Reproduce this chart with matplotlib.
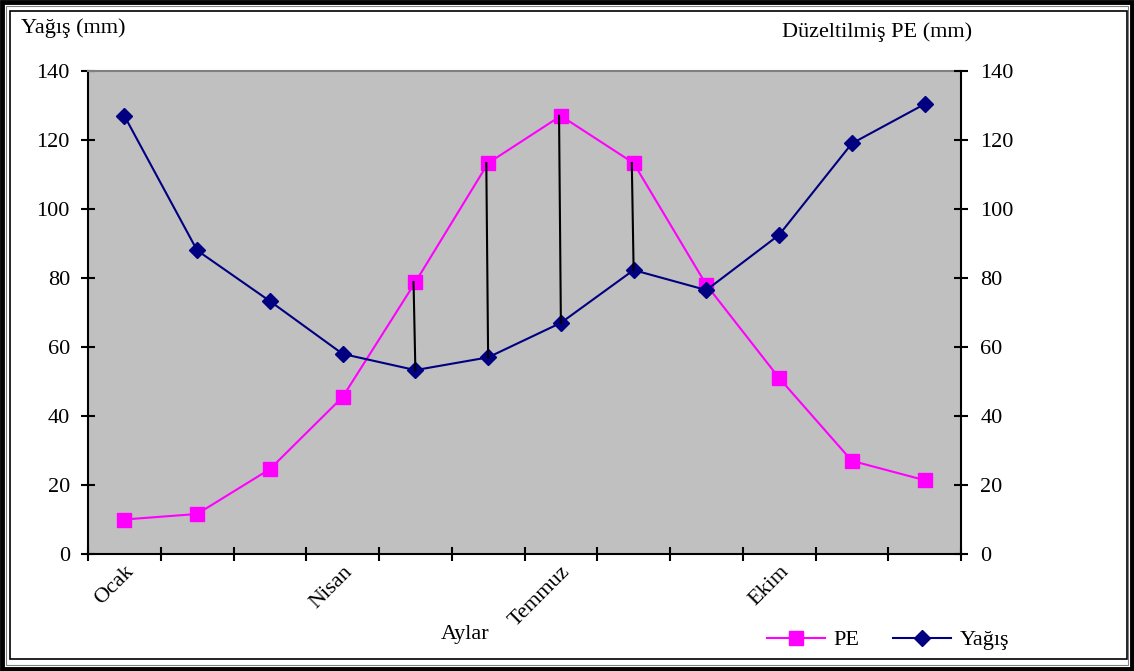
import matplotlib.pyplot as plt
from matplotlib.patches import Rectangle
from matplotlib.lines import Line2D
import numpy as np

plt.rcParams['font.family'] = ['Liberation Serif', 'DejaVu Serif']

months = ['Ocak', 'Şubat', 'Mart', 'Nisan', 'Mayıs', 'Haziran', 'Temmuz',
          'Ağustos', 'Eylül', 'Ekim', 'Kasım', 'Aralık']
shown_labels = ['Ocak', 'Nisan', 'Temmuz', 'Ekim']
yagis = [127, 88, 73.3, 58, 53.3, 57, 67, 82.3, 76.5, 92.5, 119, 130.4]
pe = [10, 11.6, 24.6, 45.5, 78.8, 113.3, 127, 113.3, 78, 51, 27, 21.4]
deficit_months = ['Mayıs', 'Haziran', 'Temmuz', 'Ağustos']
yticks = [0, 20, 40, 60, 80, 100, 120, 140]

FS = 16
fig = plt.figure(figsize=(11.34, 6.71), dpi=100)
ax = fig.add_axes([88 / 1134, 117 / 671, 873 / 1134, 483 / 671])
ax.set_facecolor('#C0C0C0')

x = np.arange(len(months))
ax.plot(x, pe, color='#FF00FF', lw=1.5, marker='s', ms=10.5, zorder=3)
ax.plot(x, yagis, color='#000080', lw=1.5, marker='D', ms=8, zorder=3)

for m in deficit_months:
    i = months.index(m)
    ax.plot([i - 0.025, i], [pe[i], yagis[i]], color='black', lw=1.5, zorder=4)

ax.set_xlim(-0.5, len(months) - 0.5)
ax.set_ylim(0, 140)
ax.set_yticks(yticks)
ax.set_xticks([months.index(m) for m in shown_labels])
ax.set_xticklabels(shown_labels, rotation=45, ha='right', va='top',
                   rotation_mode='anchor', fontsize=FS)
ax.set_xticks(np.arange(-0.5, len(months)), minor=True)
ax.tick_params(axis='x', which='major', length=0, pad=6)
ax.tick_params(axis='x', which='minor', direction='inout', length=10, width=1.5)
ax.tick_params(axis='y', direction='inout', length=10, width=1.5, labelsize=FS, pad=8)

for s in ['left', 'bottom']:
    ax.spines[s].set_linewidth(1.5)
ax.spines['top'].set_color('#808080')
ax.spines['top'].set_linewidth(1.5)
ax.spines['right'].set_visible(False)

ax2 = ax.twinx()
ax2.set_ylim(0, 140)
ax2.set_yticks(yticks)
ax2.tick_params(axis='y', direction='inout', length=10, width=1.5, labelsize=FS, pad=9)
ax2.spines['right'].set_linewidth(1.5)
ax2.spines['top'].set_visible(False)
ax2.spines['left'].set_visible(False)
ax2.spines['bottom'].set_visible(False)

fig.text(21 / 1134, 1 - 28 / 671, 'Yağış (mm)', fontsize=FS, va='center', ha='left')
fig.text(972 / 1134, 1 - 32 / 671, 'Düzeltilmiş PE (mm)', fontsize=FS, va='center', ha='right')
fig.text(441 / 1134, 1 - 634 / 671, 'Aylar', fontsize=FS, va='center', ha='left')

handles = [Line2D([], [], color='#FF00FF', lw=1.5, marker='s', ms=10.5),
           Line2D([], [], color='#000080', lw=1.5, marker='D', ms=8)]
fig.legend(handles, ['PE', 'Yağış'], loc='center', bbox_to_anchor=(888 / 1134, 1 - 640 / 671),
           ncol=2, frameon=False, fontsize=FS, handlelength=2.6, columnspacing=1.5,
           handletextpad=0.4)

# double frame around the figure
fig.patches.append(Rectangle((2 / 1134, 2 / 671), 1130 / 1134, 667 / 671,
                             transform=fig.transFigure, fill=False, lw=3.5,
                             edgecolor='black'))
fig.patches.append(Rectangle((6 / 1134, 6 / 671), 1122 / 1134, 659 / 671,
                             transform=fig.transFigure, fill=False, lw=0.8,
                             edgecolor='#808080'))
fig.patches.append(Rectangle((10 / 1134, 12 / 671), 1117 / 1134, 648 / 671,
                             transform=fig.transFigure, fill=False, lw=1.2,
                             edgecolor='black'))

fig.savefig('out.png', dpi=100)
